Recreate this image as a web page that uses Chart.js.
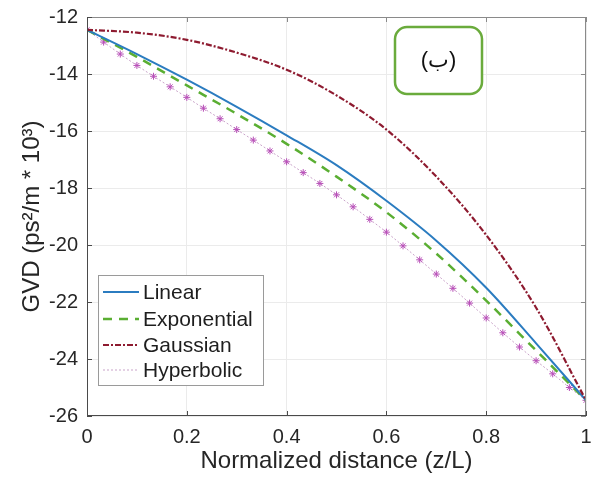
<!DOCTYPE html>
<html>
<head>
<meta charset="utf-8">
<script src="https://cdn.jsdelivr.net/npm/chart.js@4.4.1/dist/chart.umd.min.js"></script>
<style>
  html, body { margin: 0; padding: 0; background: #ffffff; }
  #wrap { width: 591px; height: 478px; position: relative; }
</style>
</head>
<body>
<div id="wrap"><canvas id="c" width="591" height="478"></canvas></div>
<script>
// ---- data ----
const xMain = [0, 0.1, 0.2, 0.3, 0.4, 0.5, 0.6, 0.7, 0.8, 0.9, 1.0];
const linear      = [-12.45, -13.3, -14.2, -15.15, -16.15, -17.2, -18.45, -19.85, -21.5, -23.45, -25.45];
const exponential = [-12.45, -13.4, -14.4, -15.4, -16.45, -17.6, -18.85, -20.3, -21.95, -23.7, -25.45];
const gaussian    = [-12.45, -12.55, -12.8, -13.25, -13.85, -14.75, -15.95, -17.6, -19.65, -22.2, -25.45];
const xHyper = [0, 0.0333, 0.0667, 0.1, 0.1333, 0.1667, 0.2, 0.2333, 0.2667, 0.3, 0.3333,
                0.3667, 0.4, 0.4333, 0.4667, 0.5, 0.5333, 0.5667, 0.6, 0.6333, 0.6667,
                0.7, 0.7333, 0.7667, 0.8, 0.8333, 0.8667, 0.9, 0.9333, 0.9667, 1.0];
const hyperbolic = [-12.45, -12.88, -13.3, -13.7, -14.08, -14.45, -14.82, -15.2, -15.57, -15.95, -16.32,
                    -16.7, -17.08, -17.46, -17.84, -18.24, -18.66, -19.1, -19.55, -20.03, -20.52,
                    -21.02, -21.52, -22.04, -22.56, -23.08, -23.58, -24.06, -24.52, -25.0, -25.45];
const seriesNames = ['Linear', 'Exponential', 'Gaussian', 'Hyperbolic'];
const xTicks = [0, 0.2, 0.4, 0.6, 0.8, 1];
const yTicks = [-12, -14, -16, -18, -20, -22, -24, -26];
const xTitle = 'Normalized distance (z/L)';
const yTitle = 'GVD (ps\u00B2/m * 10\u00B3)';
const panelLabel = '(\u0628)';

const FONT = "'Liberation Sans', Arial, Helvetica, sans-serif";
const pts = (xs, ys) => xs.map((x, i) => ({ x: x, y: ys[i] }));

const datasets = [
  { label: seriesNames[0], data: pts(xMain, linear), borderColor: '#2b7cc0', borderWidth: 2,
    pointRadius: 0, cubicInterpolationMode: 'monotone', order: 2 },
  { label: seriesNames[1], data: pts(xMain, exponential), borderColor: '#5aae32', borderWidth: 2.5,
    borderDash: [9, 7], pointRadius: 0, cubicInterpolationMode: 'monotone', order: 3 },
  { label: seriesNames[2], data: pts(xMain, gaussian), borderColor: '#8e1b30', borderWidth: 2.2,
    borderDash: [6, 2, 2, 2], pointRadius: 0, cubicInterpolationMode: 'monotone', order: 1 },
  { label: seriesNames[3], data: pts(xHyper, hyperbolic), borderColor: '#c9a3c9', borderWidth: 1,
    borderDash: [2, 2], pointRadius: 3.5, pointStyle: 'star', pointBorderColor: '#b84fb8',
    pointBackgroundColor: '#b84fb8', pointBorderWidth: 1, cubicInterpolationMode: 'monotone', order: 4 }
];

const deco = {
  id: 'deco',
  afterDraw(chart) {
    const { ctx, chartArea: a, scales: { x, y } } = chart;
    ctx.save();
    // box & inward ticks
    ctx.lineWidth = 1;
    ctx.strokeStyle = '#8a8a8a';
    ctx.beginPath();
    ctx.moveTo(a.left, a.top + 0.5); ctx.lineTo(a.right, a.top + 0.5);
    ctx.moveTo(a.right - 0.5, a.top); ctx.lineTo(a.right - 0.5, a.bottom);
    yTicks.forEach(v => {
      const py = Math.round(y.getPixelForValue(v)) + 0.5;
      ctx.moveTo(a.right - 5, py); ctx.lineTo(a.right, py);
    });
    xTicks.forEach(v => {
      const px = Math.round(x.getPixelForValue(v)) + 0.5;
      ctx.moveTo(px, a.top); ctx.lineTo(px, a.top + 5);
    });
    ctx.stroke();
    ctx.strokeStyle = '#4a4a4a';
    ctx.beginPath();
    ctx.moveTo(a.left + 0.5, a.top); ctx.lineTo(a.left + 0.5, a.bottom);
    ctx.moveTo(a.left, a.bottom - 0.5); ctx.lineTo(a.right, a.bottom - 0.5);
    yTicks.forEach(v => {
      const py = Math.round(y.getPixelForValue(v)) + 0.5;
      ctx.moveTo(a.left, py); ctx.lineTo(a.left + 5, py);
    });
    xTicks.forEach(v => {
      const px = Math.round(x.getPixelForValue(v)) + 0.5;
      ctx.moveTo(px, a.bottom); ctx.lineTo(px, a.bottom - 5);
    });
    ctx.stroke();

    // legend
    const lx = 98, ly = 275, lw = 165, lh = 110;
    ctx.fillStyle = '#ffffff';
    ctx.fillRect(lx, ly, lw, lh);
    ctx.strokeStyle = '#9a9a9a';
    ctx.lineWidth = 1;
    ctx.strokeRect(lx + 0.5, ly + 0.5, lw, lh);
    const rows = [292, 319, 345, 370];
    ctx.font = '21px ' + FONT;
    ctx.textBaseline = 'middle';
    ctx.textAlign = 'left';
    chart.data.datasets.forEach((ds, i) => {
      ctx.save();
      ctx.strokeStyle = ds.borderColor;
      ctx.lineWidth = ds.borderWidth;
      ctx.setLineDash(ds.borderDash || []);
      ctx.beginPath();
      ctx.moveTo(103, rows[i]); ctx.lineTo(139, rows[i]);
      ctx.stroke();
      ctx.restore();
      ctx.fillStyle = '#1e1e1e';
      ctx.fillText(ds.label, 143, rows[i] + 1);
    });

    // panel label box
    const bx = 395, by = 27, bw = 87, bh = 67, r = 12;
    ctx.beginPath();
    ctx.moveTo(bx + r, by);
    ctx.arcTo(bx + bw, by, bx + bw, by + bh, r);
    ctx.arcTo(bx + bw, by + bh, bx, by + bh, r);
    ctx.arcTo(bx, by + bh, bx, by, r);
    ctx.arcTo(bx, by, bx + bw, by, r);
    ctx.closePath();
    ctx.fillStyle = '#ffffff';
    ctx.fill();
    ctx.strokeStyle = '#6aab3c';
    ctx.lineWidth = 2.5;
    ctx.stroke();
    ctx.fillStyle = '#111111';
    ctx.font = '22px ' + FONT;
    ctx.textAlign = 'center';
    ctx.textBaseline = 'middle';
    ctx.fillText(panelLabel, bx + bw / 2, by + bh / 2);
    ctx.restore();
  }
};

new Chart(document.getElementById('c'), {
  type: 'line',
  data: { datasets: datasets },
  plugins: [deco],
  options: {
    responsive: false,
    animation: false,
    layout: { padding: { left: 0, top: 17, right: 3, bottom: 0 } },
    plugins: { legend: { display: false }, tooltip: { enabled: false } },
    scales: {
      x: {
        type: 'linear', min: 0, max: 1,
        afterBuildTicks: s => { s.ticks = xTicks.map(v => ({ value: v })); },
        afterFit: s => { s.height = 62; s.paddingLeft = 0; s.paddingRight = 0; },
        ticks: { color: '#262626', font: { family: FONT, size: 20 }, padding: 9,
                 maxRotation: 0, autoSkip: false, callback: v => String(v) },
        grid: { color: '#ebebeb', drawTicks: false },
        border: { display: false },
        title: { display: true, text: xTitle, color: '#262626',
                 font: { family: FONT, size: 24 }, padding: { top: 0, bottom: 2 } }
      },
      y: {
        type: 'linear', min: -26, max: -12,
        afterBuildTicks: s => { s.ticks = yTicks.map(v => ({ value: v })); },
        afterFit: s => { s.width = 87; s.paddingTop = 0; s.paddingBottom = 0; },
        ticks: { color: '#262626', font: { family: FONT, size: 20 }, padding: 9,
                 autoSkip: false, callback: v => String(v) },
        grid: { color: '#ebebeb', drawTicks: false },
        border: { display: false },
        title: { display: true, text: yTitle, color: '#262626',
                 font: { family: FONT, size: 24 }, padding: { top: 18, bottom: 0 } }
      }
    }
  }
});
</script>
</body>
</html>
